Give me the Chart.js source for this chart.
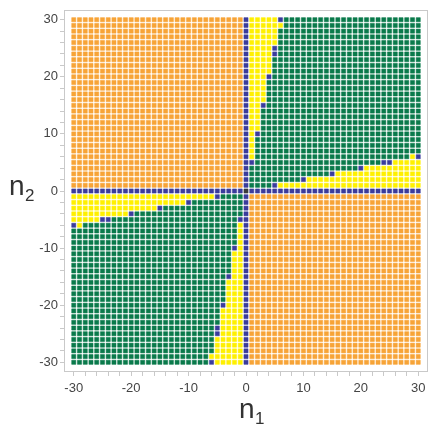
<!DOCTYPE html>
<html>
<head>
<meta charset="utf-8">
<script src="https://cdn.jsdelivr.net/npm/chart.js@4.4.1/dist/chart.umd.min.js"></script>
<style>
  html, body { margin: 0; padding: 0; background: #fff; }
  #wrap { width: 437px; height: 436px; }
</style>
</head>
<body>
<div id="wrap"><canvas id="myChart"></canvas></div>
<script>
// grid coordinates
const n1Values = [-30, -29, -28, -27, -26, -25, -24, -23, -22, -21, -20, -19, -18, -17, -16, -15, -14, -13, -12, -11,
  -10, -9, -8, -7, -6, -5, -4, -3, -2, -1, 0, 1, 2, 3, 4, 5, 6, 7, 8, 9, 10, 11, 12, 13, 14, 15, 16, 17, 18, 19, 20,
  21, 22, 23, 24, 25, 26, 27, 28, 29, 30];
const n2Values = [30, 29, 28, 27, 26, 25, 24, 23, 22, 21, 20, 19, 18, 17, 16, 15, 14, 13, 12, 11, 10, 9, 8, 7, 6, 5,
  4, 3, 2, 1, 0, -1, -2, -3, -4, -5, -6, -7, -8, -9, -10, -11, -12, -13, -14, -15, -16, -17, -18, -19, -20, -21, -22,
  -23, -24, -25, -26, -27, -28, -29, -30];
const tickLabels = [-30, -20, -10, 0, 10, 20, 30];

// one string per n2 row (top to bottom), one letter per n1 column (left to right)
// O = orange, G = green, Y = yellow, B = blue, K = origin
const cellRows = [
  "OOOOOOOOOO OOOOOOOOOO OOOOOOOOOO B YYYYYBGGGG GGGGGGGGGG GGGGGGGGGG", // 30
  "OOOOOOOOOO OOOOOOOOOO OOOOOOOOOO B YYYYYYGGGG GGGGGGGGGG GGGGGGGGGG", // 29
  "OOOOOOOOOO OOOOOOOOOO OOOOOOOOOO B YYYYYGGGGG GGGGGGGGGG GGGGGGGGGG", // 28
  "OOOOOOOOOO OOOOOOOOOO OOOOOOOOOO B YYYYYGGGGG GGGGGGGGGG GGGGGGGGGG", // 27
  "OOOOOOOOOO OOOOOOOOOO OOOOOOOOOO B YYYYYGGGGG GGGGGGGGGG GGGGGGGGGG", // 26
  "OOOOOOOOOO OOOOOOOOOO OOOOOOOOOO B YYYYBGGGGG GGGGGGGGGG GGGGGGGGGG", // 25
  "OOOOOOOOOO OOOOOOOOOO OOOOOOOOOO B YYYYBGGGGG GGGGGGGGGG GGGGGGGGGG", // 24
  "OOOOOOOOOO OOOOOOOOOO OOOOOOOOOO B YYYYGGGGGG GGGGGGGGGG GGGGGGGGGG", // 23
  "OOOOOOOOOO OOOOOOOOOO OOOOOOOOOO B YYYYGGGGGG GGGGGGGGGG GGGGGGGGGG", // 22
  "OOOOOOOOOO OOOOOOOOOO OOOOOOOOOO B YYYYGGGGGG GGGGGGGGGG GGGGGGGGGG", // 21
  "OOOOOOOOOO OOOOOOOOOO OOOOOOOOOO B YYYBGGGGGG GGGGGGGGGG GGGGGGGGGG", // 20
  "OOOOOOOOOO OOOOOOOOOO OOOOOOOOOO B YYYGGGGGGG GGGGGGGGGG GGGGGGGGGG", // 19
  "OOOOOOOOOO OOOOOOOOOO OOOOOOOOOO B YYYGGGGGGG GGGGGGGGGG GGGGGGGGGG", // 18
  "OOOOOOOOOO OOOOOOOOOO OOOOOOOOOO B YYYGGGGGGG GGGGGGGGGG GGGGGGGGGG", // 17
  "OOOOOOOOOO OOOOOOOOOO OOOOOOOOOO B YYYGGGGGGG GGGGGGGGGG GGGGGGGGGG", // 16
  "OOOOOOOOOO OOOOOOOOOO OOOOOOOOOO B YYBGGGGGGG GGGGGGGGGG GGGGGGGGGG", // 15
  "OOOOOOOOOO OOOOOOOOOO OOOOOOOOOO B YYGGGGGGGG GGGGGGGGGG GGGGGGGGGG", // 14
  "OOOOOOOOOO OOOOOOOOOO OOOOOOOOOO B YYGGGGGGGG GGGGGGGGGG GGGGGGGGGG", // 13
  "OOOOOOOOOO OOOOOOOOOO OOOOOOOOOO B YYGGGGGGGG GGGGGGGGGG GGGGGGGGGG", // 12
  "OOOOOOOOOO OOOOOOOOOO OOOOOOOOOO B YYGGGGGGGG GGGGGGGGGG GGGGGGGGGG", // 11
  "OOOOOOOOOO OOOOOOOOOO OOOOOOOOOO B YBGGGGGGGG GGGGGGGGGG GGGGGGGGGG", // 10
  "OOOOOOOOOO OOOOOOOOOO OOOOOOOOOO B YGGGGGGGGG GGGGGGGGGG GGGGGGGGGG", // 9
  "OOOOOOOOOO OOOOOOOOOO OOOOOOOOOO B YGGGGGGGGG GGGGGGGGGG GGGGGGGGGG", // 8
  "OOOOOOOOOO OOOOOOOOOO OOOOOOOOOO B YGGGGGGGGG GGGGGGGGGG GGGGGGGGGG", // 7
  "OOOOOOOOOO OOOOOOOOOO OOOOOOOOOO B YGGGGGGGGG GGGGGGGGGG GGGGGGGGYB", // 6
  "OOOOOOOOOO OOOOOOOOOO OOOOOOOOOO B BGGGGGGGGG GGGGGGGGGG GGGBBYYYYY", // 5
  "OOOOOOOOOO OOOOOOOOOO OOOOOOOOOO B GGGGGGGGGG GGGGGGGGGB YYYYYYYYYY", // 4
  "OOOOOOOOOO OOOOOOOOOO OOOOOOOOOO B GGGGGGGGGG GGGGBYYYYY YYYYYYYYYY", // 3
  "OOOOOOOOOO OOOOOOOOOO OOOOOOOOOO B GGGGGGGGGB YYYYYYYYYY YYYYYYYYYY", // 2
  "OOOOOOOOOO OOOOOOOOOO OOOOOOOOOO B GGGGBYYYYY YYYYYYYYYY YYYYYYYYYY", // 1
  "BBBBBBBBBB BBBBBBBBBB BBBBBBBBBB K BBBBBBBBBB BBBBBBBBBB BBBBBBBBBB", // 0
  "YYYYYYYYYY YYYYYYYYYY YYYYYBGGGG B OOOOOOOOOO OOOOOOOOOO OOOOOOOOOO", // -1
  "YYYYYYYYYY YYYYYYYYYY BGGGGGGGGG B OOOOOOOOOO OOOOOOOOOO OOOOOOOOOO", // -2
  "YYYYYYYYYY YYYYYBGGGG GGGGGGGGGG B OOOOOOOOOO OOOOOOOOOO OOOOOOOOOO", // -3
  "YYYYYYYYYY BGGGGGGGGG GGGGGGGGGG B OOOOOOOOOO OOOOOOOOOO OOOOOOOOOO", // -4
  "YYYYYBBGGG GGGGGGGGGG GGGGGGGGGB B OOOOOOOOOO OOOOOOOOOO OOOOOOOOOO", // -5
  "BYGGGGGGGG GGGGGGGGGG GGGGGGGGGY B OOOOOOOOOO OOOOOOOOOO OOOOOOOOOO", // -6
  "GGGGGGGGGG GGGGGGGGGG GGGGGGGGGY B OOOOOOOOOO OOOOOOOOOO OOOOOOOOOO", // -7
  "GGGGGGGGGG GGGGGGGGGG GGGGGGGGGY B OOOOOOOOOO OOOOOOOOOO OOOOOOOOOO", // -8
  "GGGGGGGGGG GGGGGGGGGG GGGGGGGGGY B OOOOOOOOOO OOOOOOOOOO OOOOOOOOOO", // -9
  "GGGGGGGGGG GGGGGGGGGG GGGGGGGGBY B OOOOOOOOOO OOOOOOOOOO OOOOOOOOOO", // -10
  "GGGGGGGGGG GGGGGGGGGG GGGGGGGGYY B OOOOOOOOOO OOOOOOOOOO OOOOOOOOOO", // -11
  "GGGGGGGGGG GGGGGGGGGG GGGGGGGGYY B OOOOOOOOOO OOOOOOOOOO OOOOOOOOOO", // -12
  "GGGGGGGGGG GGGGGGGGGG GGGGGGGGYY B OOOOOOOOOO OOOOOOOOOO OOOOOOOOOO", // -13
  "GGGGGGGGGG GGGGGGGGGG GGGGGGGGYY B OOOOOOOOOO OOOOOOOOOO OOOOOOOOOO", // -14
  "GGGGGGGGGG GGGGGGGGGG GGGGGGGBYY B OOOOOOOOOO OOOOOOOOOO OOOOOOOOOO", // -15
  "GGGGGGGGGG GGGGGGGGGG GGGGGGGYYY B OOOOOOOOOO OOOOOOOOOO OOOOOOOOOO", // -16
  "GGGGGGGGGG GGGGGGGGGG GGGGGGGYYY B OOOOOOOOOO OOOOOOOOOO OOOOOOOOOO", // -17
  "GGGGGGGGGG GGGGGGGGGG GGGGGGGYYY B OOOOOOOOOO OOOOOOOOOO OOOOOOOOOO", // -18
  "GGGGGGGGGG GGGGGGGGGG GGGGGGGYYY B OOOOOOOOOO OOOOOOOOOO OOOOOOOOOO", // -19
  "GGGGGGGGGG GGGGGGGGGG GGGGGGBYYY B OOOOOOOOOO OOOOOOOOOO OOOOOOOOOO", // -20
  "GGGGGGGGGG GGGGGGGGGG GGGGGGYYYY B OOOOOOOOOO OOOOOOOOOO OOOOOOOOOO", // -21
  "GGGGGGGGGG GGGGGGGGGG GGGGGGYYYY B OOOOOOOOOO OOOOOOOOOO OOOOOOOOOO", // -22
  "GGGGGGGGGG GGGGGGGGGG GGGGGGYYYY B OOOOOOOOOO OOOOOOOOOO OOOOOOOOOO", // -23
  "GGGGGGGGGG GGGGGGGGGG GGGGGBYYYY B OOOOOOOOOO OOOOOOOOOO OOOOOOOOOO", // -24
  "GGGGGGGGGG GGGGGGGGGG GGGGGBYYYY B OOOOOOOOOO OOOOOOOOOO OOOOOOOOOO", // -25
  "GGGGGGGGGG GGGGGGGGGG GGGGGYYYYY B OOOOOOOOOO OOOOOOOOOO OOOOOOOOOO", // -26
  "GGGGGGGGGG GGGGGGGGGG GGGGGYYYYY B OOOOOOOOOO OOOOOOOOOO OOOOOOOOOO", // -27
  "GGGGGGGGGG GGGGGGGGGG GGGGGYYYYY B OOOOOOOOOO OOOOOOOOOO OOOOOOOOOO", // -28
  "GGGGGGGGGG GGGGGGGGGG GGGGYYYYYY B OOOOOOOOOO OOOOOOOOOO OOOOOOOOOO", // -29
  "GGGGGGGGGG GGGGGGGGGG GGGGBYYYYY B OOOOOOOOOO OOOOOOOOOO OOOOOOOOOO", // -30
];

const cellKinds = ["O", "G", "Y", "B", "K"];
const kindColors = {
  O: "#f7a437",
  G: "#0a7a4b",
  Y: "#fff000",
  B: "#3b3c9c",
  K: "#3a3a3a",
};

// build one scatter dataset per colour
const datasets = cellKinds.map((kind) => ({
  label: kind,
  data: [],
  pointStyle: "rect",
  pointRadius: 2.9,
  pointHoverRadius: 2.9,
  backgroundColor: kindColors[kind],
  borderColor: kindColors[kind] + "88",
  borderWidth: 1,
}));

n2Values.forEach((n2, i) => {
  const row = cellRows[i].replace(/ /g, "");
  n1Values.forEach((n1, j) => {
    const k = cellKinds.indexOf(row[j]);
    datasets[k].data.push({ x: n1, y: n2 });
  });
});

// frame around the plot and the n1 / n2 axis titles
const framePlugin = {
  id: "frame",
  afterDraw(chart) {
    const { ctx, chartArea: a } = chart;
    ctx.save();
    ctx.strokeStyle = "#c9c9c9";
    ctx.lineWidth = 1;
    ctx.strokeRect(a.left + 0.5, a.top + 0.5, a.right - a.left - 1, a.bottom - a.top - 1);

    ctx.fillStyle = "#333333";
    ctx.textBaseline = "alphabetic";
    const cx = (a.left + a.right) / 2;
    ctx.font = '28px "Liberation Sans"';
    ctx.fillText("n", cx - 7, 418);
    ctx.font = '17px "Liberation Sans"';
    ctx.fillText("1", cx + 9, 424);

    const cy = (a.top + a.bottom) / 2;
    ctx.font = '28px "Liberation Sans"';
    ctx.fillText("n", 9, cy + 4);
    ctx.font = '17px "Liberation Sans"';
    ctx.fillText("2", 25, cy + 10);
    ctx.restore();
  },
};

const tickFont = { family: "Liberation Sans", size: 13 };

new Chart(document.getElementById("myChart"), {
  type: "scatter",
  data: { datasets },
  options: {
    responsive: true,
    maintainAspectRatio: false,
    animation: false,
    devicePixelRatio: 1,
    layout: { padding: { left: 0, right: 9, top: 10, bottom: 0 } },
    plugins: {
      legend: { display: false },
      tooltip: { enabled: false },
    },
    scales: {
      x: {
        type: "linear",
        min: -31.7,
        max: 31.7,
        afterFit: (scale) => { scale.height = 64; },
        grid: {
          drawOnChartArea: false,
          tickLength: 4,
          tickColor: "#c9c9c9",
        },
        border: { display: false },
        ticks: {
          stepSize: 2,
          includeBounds: false,
          autoSkip: false,
          maxRotation: 0,
          padding: 5,
          color: "#444444",
          font: tickFont,
          callback: (v) => (tickLabels.includes(v) ? String(v) : ""),
        },
      },
      y: {
        type: "linear",
        min: -31.7,
        max: 31.7,
        afterFit: (scale) => { scale.width = 64; },
        grid: {
          drawOnChartArea: false,
          tickLength: 4,
          tickColor: "#c9c9c9",
        },
        border: { display: false },
        ticks: {
          stepSize: 2,
          includeBounds: false,
          autoSkip: false,
          padding: 2,
          color: "#444444",
          font: tickFont,
          callback: (v) => (tickLabels.includes(v) ? String(v) : ""),
        },
      },
    },
  },
  plugins: [framePlugin],
});
</script>
</body>
</html>
